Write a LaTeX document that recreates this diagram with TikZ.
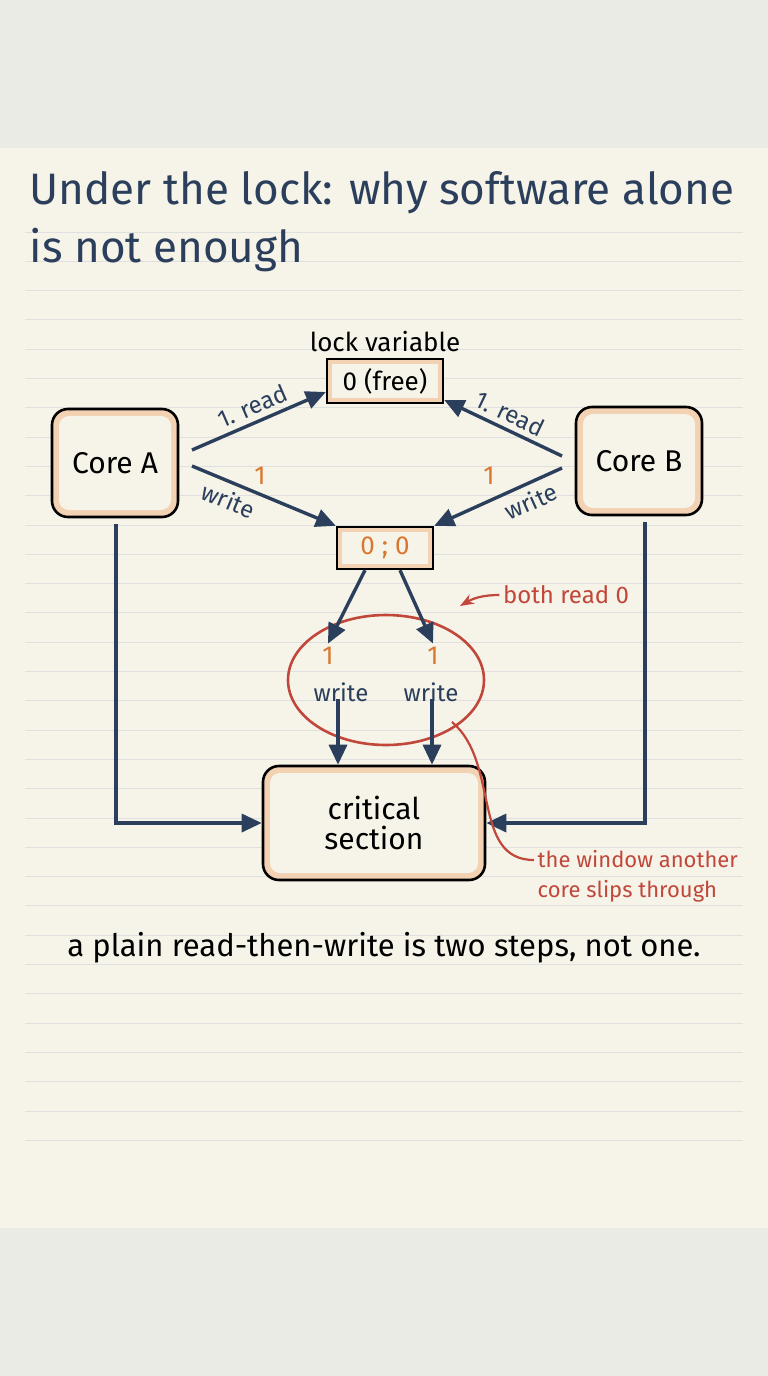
\documentclass[tikz,border=0pt]{standalone}
\usepackage{fontspec}
\setmainfont{Fira Sans}
\usetikzlibrary{arrows.meta,positioning}
\definecolor{ink}{HTML}{2B3F5C}
\definecolor{hot}{HTML}{D9772E}
\definecolor{note}{HTML}{C0473A}
\definecolor{peach}{HTML}{F3D2B4}
\definecolor{paper}{HTML}{F6F3E8}
\definecolor{band}{HTML}{EBEBE5}
\begin{document}
\begin{tikzpicture}[x=1pt, y=-1pt, thick,
    core/.style = {draw=black, line width=2.6pt, rounded corners=16pt, fill=peach,
                   minimum width=126pt, minimum height=108pt,
                   font=\fontsize{30}{32}\selectfont,
                   path picture={\fill[paper, rounded corners=10pt]
                       ([xshift=7pt,yshift=-7pt]path picture bounding box.north west) rectangle
                       ([xshift=-7pt,yshift=7pt]path picture bounding box.south east);}},
    cell/.style = {draw=black, line width=2.4pt, fill=peach, font=\fontsize{26}{28}\selectfont,
                   path picture={\fill[paper]
                       ([xshift=5pt,yshift=-5pt]path picture bounding box.north west) rectangle
                       ([xshift=-5pt,yshift=5pt]path picture bounding box.south east);}},
    flow/.style = {draw=ink, line width=3.4pt, -{Triangle[length=20pt,width=18pt]}},
    lbl/.style = {text=ink, font=\fontsize{24}{26}\selectfont},
    num/.style = {text=hot, font=\fontsize{26}{28}\selectfont}]
    \fill[band] (0,0) rectangle (768,1376);
    \fill[paper] (0,148) rectangle (768,1228);
    \foreach \k in {0,...,31}
        \draw[black!12, line width=1pt] (25,{232+29.3*\k}) -- (743,{232+29.3*\k});

    \node[ink, anchor=west, align=left, font=\fontsize{44}{58}\selectfont] (title) at (26,222)
        {Under the lock: why software alone\\ is not enough};

    \node[cell, minimum width=116pt, minimum height=44pt] (lock) at (385,381) {0 (free)};
    \node[font=\fontsize{26}{28}\selectfont] (lockname) [above=2pt of lock] {lock variable};
    \node[core] (A) at (115,463) {Core A};
    \node[core] (B) at (639,461) {Core B};
    \node[cell, minimum width=96pt, minimum height=42pt, text=hot] (both) at (385,548) {0 ; 0};
    \node[core, minimum width=222pt, minimum height=114pt, align=center] (crit) at (374,823)
        {critical\\[-2pt]section};

    \draw[note, line width=2.6pt] (386,680) ellipse (98 and 65);

    \node[num] (oneL) at (328,656) {1};
    \node[lbl] (wrL) at (341,692) {write};
    \node[num] (oneR) at (433,656) {1};
    \node[lbl] (wrR) at (431,692) {write};

    \coordinate (aR) at (192,450); \coordinate (aW) at (192,466);
    \coordinate (bR) at (562,456); \coordinate (bW) at (562,468);
    \draw[flow] (aR) -- node[lbl, sloped, above=2pt] {1. read} (lock.south west |- 0,392);
    \draw[flow] (aW) -- node[lbl, sloped, below=3pt, pos=0.3] {write} (both.north west);
    \draw[flow] (bR) -- node[lbl, sloped, above=2pt] {1. read} (lock.south east |- 0,400);
    \draw[flow] (bW) -- node[lbl, sloped, below=3pt, pos=0.3] {write} (both.north east);
    \node[num] (oneA) at (260,476) {1};
    \node[num] (oneB) at (489,476) {1};

    \draw[flow] ([xshift=-20pt]both.south) -- (oneL.north);
    \draw[flow] ([xshift=15pt]both.south) -- (oneR.north);
    \draw[flow] ([yshift=6pt]wrL.south -| 338,0) -- (crit.north -| 338,0);
    \draw[flow] ([yshift=6pt]wrR.south -| 432,0) -- (crit.north -| 432,0);

    \draw[flow] (A.south) ++(1,6) |- (crit.west);
    \draw[flow] (B.south) ++(6,6) |- (crit.east);

    \node[note, font=\fontsize{24}{26}\selectfont] (bothnote) at (566,595) {both read 0};
    \draw[note, line width=2.2pt, -{Stealth[length=14pt]}] (bothnote.west) to[out=180, in=30] (460,606);
    \node[note, align=left, anchor=west, font=\fontsize{22}{30}\selectfont] (window) at (534,876)
        {the window another\\core slips through};
    \draw[note, line width=2.2pt] (452,722) to[out=-40, in=180] (window.west |- 0,860);

    \node[font=\fontsize{31}{33}\selectfont] (moral) at (384,948) {a plain read-then-write is two steps, not one.};
\end{tikzpicture}
\end{document}
